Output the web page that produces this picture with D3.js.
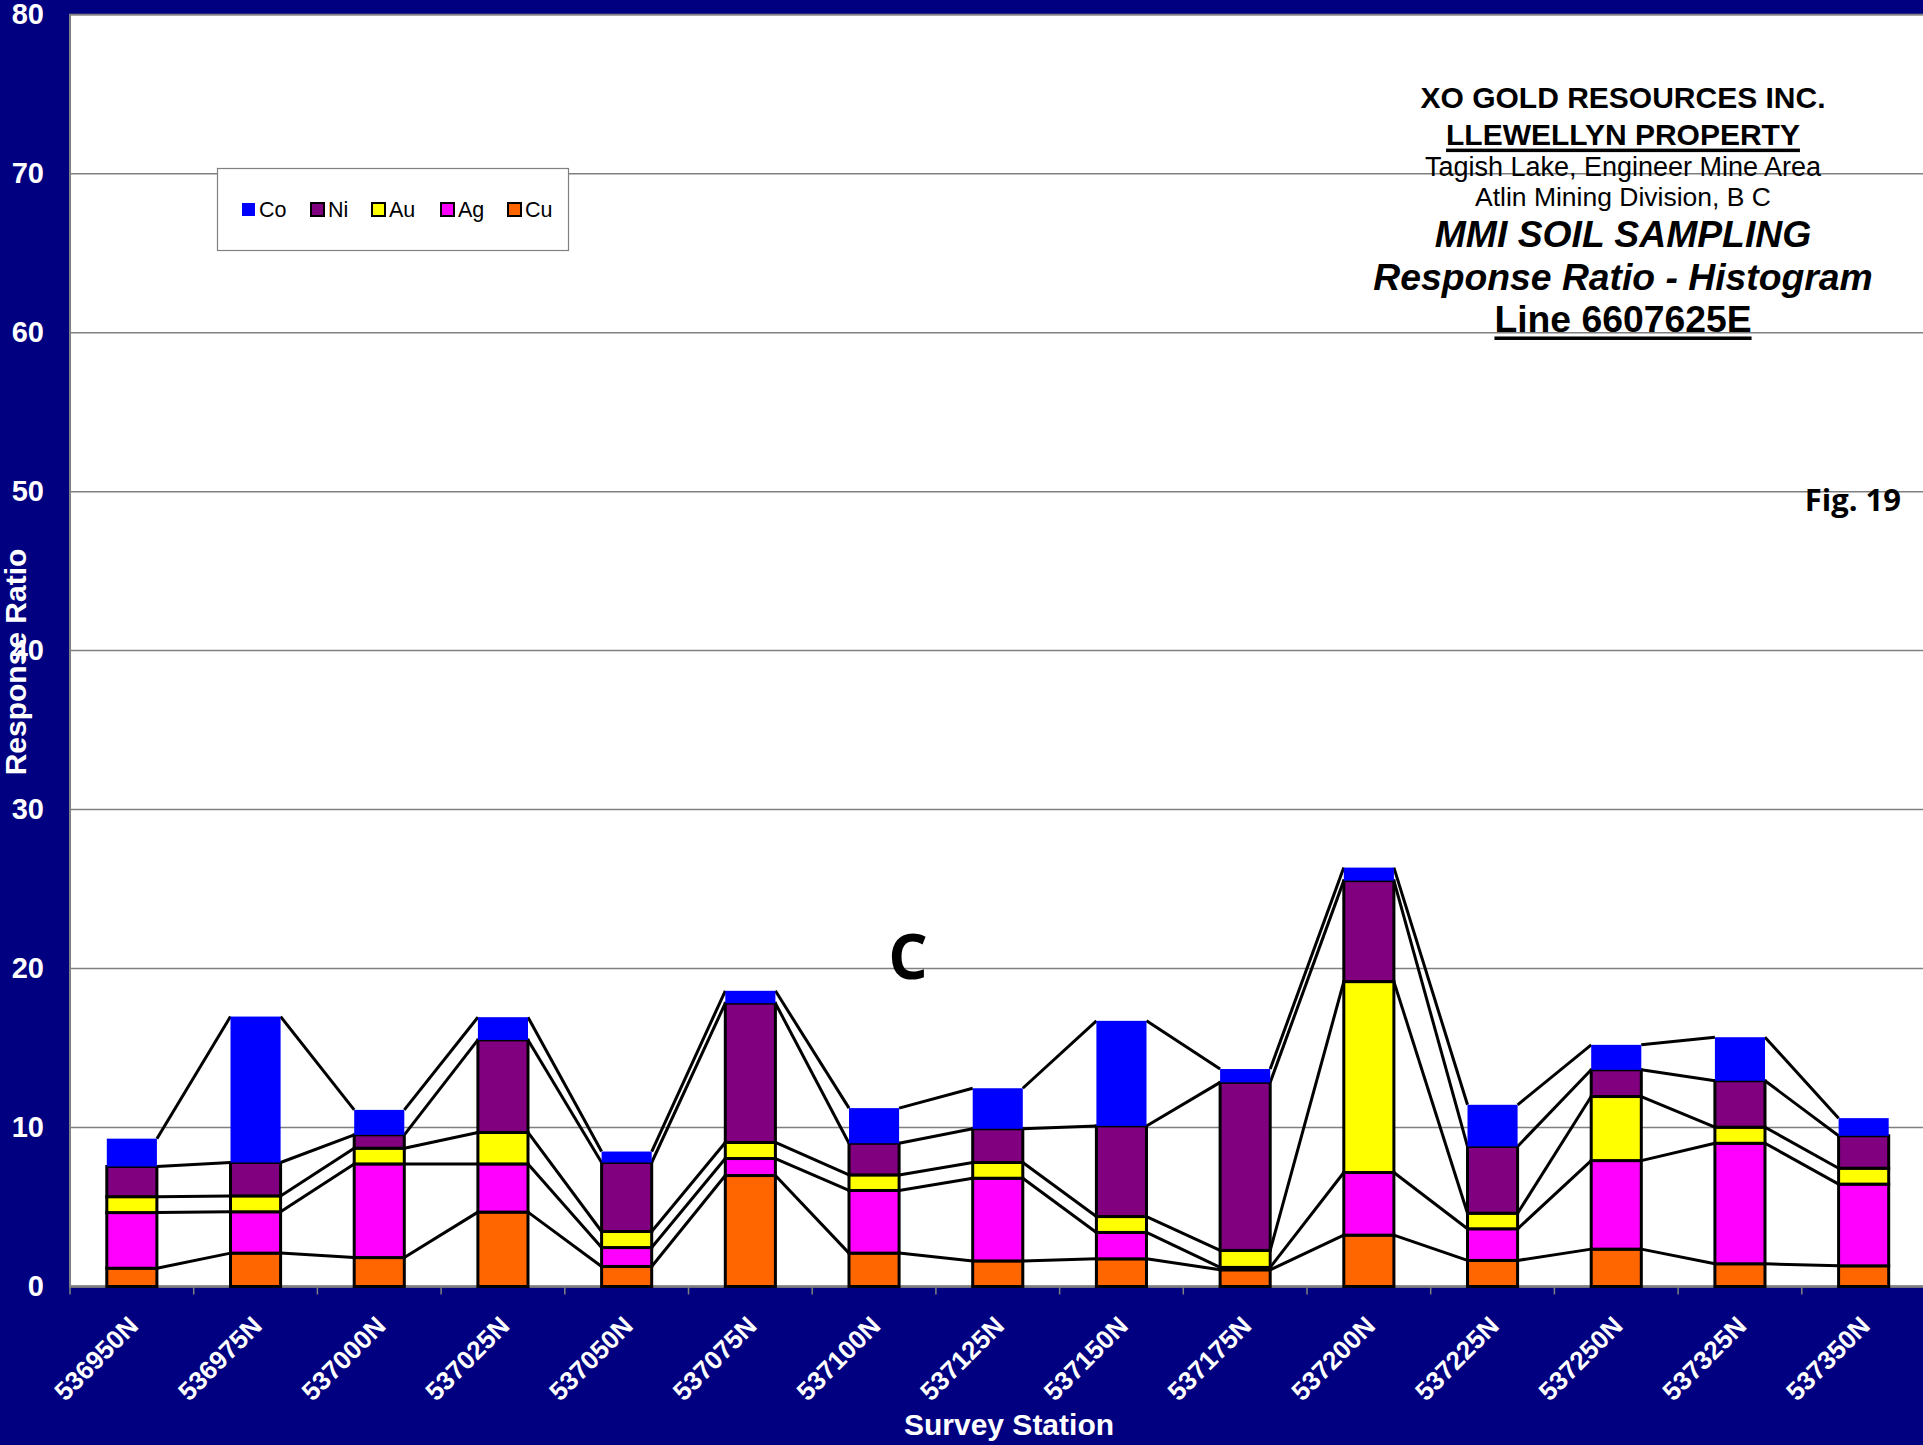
<!DOCTYPE html>
<html><head><meta charset="utf-8">
<script src="https://cdn.jsdelivr.net/npm/d3@7"></script>
<style>body{margin:0;background:#000080;}svg{display:block;}</style>
</head><body>
<script>
const categories = ["536950N","536975N","537000N","537025N","537050N","537075N","537100N","537125N","537150N","537175N","537200N","537225N","537250N","537325N","537350N"];
const cu = [1.15,2.10,1.82,4.68,1.26,6.98,2.10,1.61,1.74,1.05,3.23,1.64,2.35,1.43,1.30];
const ag = [3.50,2.60,5.89,3.03,1.19,1.07,3.94,5.20,1.66,0.15,3.94,1.99,5.57,7.58,5.14];
const au = [1.00,1.00,0.99,1.98,1.01,1.01,0.98,0.99,1.00,1.07,12.01,0.98,4.03,1.01,1.00];
const ni = [1.90,2.10,0.84,5.82,4.34,8.76,1.99,2.12,5.70,10.57,6.35,4.20,1.68,2.92,2.04];
const co = [1.75,9.18,1.57,1.43,0.69,0.78,2.21,2.55,6.61,0.84,0.82,2.62,1.57,2.74,1.11];
const seriesKeys = ["Cu","Ag","Au","Ni","Co"];
const seriesColors = {Cu:"#FF6600",Ag:"#FF00FF",Au:"#FFFF00",Ni:"#800080",Co:"#0000FF"};
const legendOrder = ["Co","Ni","Au","Ag","Cu"];
const yTicks = [0,10,20,30,40,50,60,70,80];
const titleLines = ["XO GOLD RESOURCES INC.","LLEWELLYN PROPERTY","Tagish Lake, Engineer Mine Area","Atlin Mining Division, B C","MMI SOIL SAMPLING","Response Ratio - Histogram","Line 6607625E"];

const W = 1923, H = 1445;
const L = 70, R = 1925.5, T = 14.7, B = 1286.5;
const F = "'Liberation Sans', Arial, sans-serif";

const rows = categories.map((c,i)=>({cat:c,Cu:cu[i],Ag:ag[i],Au:au[i],Ni:ni[i],Co:co[i]}));
const stacked = d3.stack().keys(seriesKeys)(rows);

const x = d3.scaleBand().domain(categories).range([L,R]).padding(0);
const y = d3.scaleLinear().domain([0,80]).range([B,T]);
const bw = x.bandwidth()*0.405;
const bx = c => x(c) + (x.bandwidth()-bw)/2;

const svg = d3.select("body").append("svg").attr("width",W).attr("height",H);
svg.append("rect").attr("width",W).attr("height",H).attr("fill","#000080");
svg.append("rect").attr("x",L).attr("y",T).attr("width",W-L+5).attr("height",B-T)
  .attr("fill","#fff").attr("stroke","#808080").attr("stroke-width",2);

// gridlines
svg.append("g").selectAll("line").data(yTicks.filter(v=>v>0&&v<80)).join("line")
  .attr("x1",L).attr("x2",W).attr("y1",d=>y(d)).attr("y2",d=>y(d))
  .attr("stroke","#808080").attr("stroke-width",1.5);

// x axis line + ticks
svg.append("line").attr("x1",L).attr("x2",W).attr("y1",B).attr("y2",B).attr("stroke","#808080").attr("stroke-width",2.5);
const bounds = categories.map(c=>x(c)).concat([R]);
svg.append("g").selectAll("line").data(bounds).join("line")
  .attr("x1",d=>d).attr("x2",d=>d).attr("y1",B).attr("y2",B+8)
  .attr("stroke","#808080").attr("stroke-width",1.5);

// series lines
const lg = svg.append("g");
stacked.forEach(s=>{
  for(let i=0;i<s.length-1;i++){
    const c0=categories[i], c1=categories[i+1];
    lg.append("line").attr("x1",bx(c0)+bw).attr("y1",y(s[i][1]))
      .attr("x2",bx(c1)).attr("y2",y(s[i+1][1]))
      .attr("stroke","#000").attr("stroke-width",3);
  }
});

// bars
stacked.forEach(s=>{
  svg.append("g").selectAll("rect").data(s).join("rect")
    .attr("x",d=>bx(d.data.cat)).attr("width",bw)
    .attr("y",d=>y(d[1])).attr("height",d=>y(d[0])-y(d[1]))
    .attr("fill",seriesColors[s.key])
    .attr("stroke",s.key==="Co"?"none":"#000").attr("stroke-width",3);
});

// y axis
const ya = svg.append("g").attr("transform",`translate(44,0)`)
  .call(d3.axisLeft(y).tickValues(yTicks).tickSize(0).tickPadding(0));
ya.select(".domain").remove();
ya.selectAll("text").attr("fill","#fff").attr("font-family",F).attr("font-weight","bold").attr("font-size",29);

// x axis labels
const xa = svg.append("g").attr("transform",`translate(0,${B})`)
  .call(d3.axisBottom(x).tickSize(0).tickPadding(0));
xa.select(".domain").remove();
xa.selectAll("text").attr("fill","#fff").attr("font-family",F).attr("font-weight","bold").attr("font-size",26)
  .attr("text-anchor","end").attr("dy",0).attr("y",0)
  .attr("transform","translate(8,41) rotate(-45)");

// axis titles
svg.append("text").attr("transform","translate(26,662) rotate(-90)").attr("text-anchor","middle")
  .attr("fill","#fff").attr("font-family",F).attr("font-weight","bold").attr("font-size",30).text("Response Ratio");
svg.append("text").attr("x",1009).attr("y",1435).attr("text-anchor","middle")
  .attr("fill","#fff").attr("font-family",F).attr("font-weight","bold").attr("font-size",30).text("Survey Station");

// legend
svg.append("rect").attr("x",217.5).attr("y",168.5).attr("width",351).attr("height",82)
  .attr("fill","#fff").attr("stroke","#808080").attr("stroke-width",1.2);
const legX = [242,311,372,441,508];
legendOrder.forEach((k,i)=>{
  svg.append("rect").attr("x",legX[i]).attr("y",203).attr("width",13).attr("height",13)
    .attr("fill",seriesColors[k]).attr("stroke",k==="Co"?"none":"#000").attr("stroke-width",2);
  svg.append("text").attr("x",legX[i]+17).attr("y",217).attr("font-family",F).attr("font-size",21.5)
    .attr("fill","#000").text(k);
});

// title block
const tcx = 1623;
const tspec = [
  {y:108,size:30,weight:"bold",style:"normal",u:false},
  {y:145,size:30,weight:"bold",style:"normal",u:true},
  {y:176,size:27,weight:"normal",style:"normal",u:false},
  {y:206,size:26.5,weight:"normal",style:"normal",u:false},
  {y:247,size:37.3,weight:"bold",style:"italic",u:false},
  {y:290,size:37.3,weight:"bold",style:"italic",u:false},
  {y:332,size:37.3,weight:"bold",style:"normal",u:true}
];
titleLines.forEach((t,i)=>{
  const s = tspec[i];
  const el = svg.append("text").attr("x",tcx).attr("y",s.y).attr("text-anchor","middle")
    .attr("font-family",F).attr("font-size",s.size).attr("font-weight",s.weight).attr("font-style",s.style)
    .attr("fill","#000").text(t);
  if(s.u){
    const w = el.node().getComputedTextLength();
    svg.append("rect").attr("x",tcx-w/2).attr("y",s.y+s.size*0.12).attr("width",w).attr("height",3.5).attr("fill","#000");
  }
});

svg.append("text").attr("x",1901).attr("y",511).attr("text-anchor","end")
  .attr("font-family","'Open Sans', sans-serif").attr("font-weight","bold").attr("font-size",31).attr("fill","#000").text("Fig. 19");
svg.append("text").attr("x",908).attr("y",979).attr("text-anchor","middle")
  .attr("font-family","'Open Sans', sans-serif").attr("font-weight","bold").attr("font-size",62).attr("fill","#000").text("C");
</script>
</body></html>
